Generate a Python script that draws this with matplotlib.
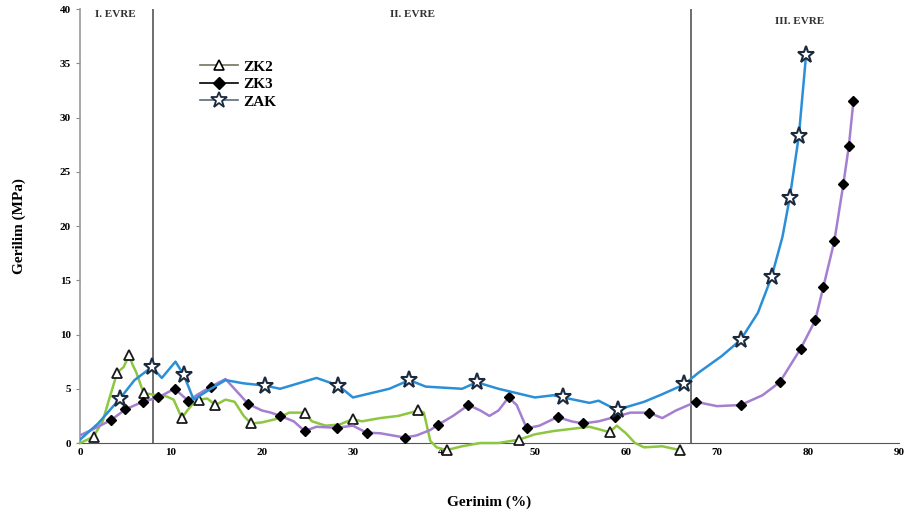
import numpy as np
import matplotlib.pyplot as plt
from matplotlib.lines import Line2D

# ZK2 (green, open triangles)
zk2_x = [0, 0.8, 1.5, 2.5, 3.2, 4.1, 4.8, 5.4, 5.8, 6.2, 7.0, 7.8, 8.5, 9.5, 10.3, 11.2, 11.8, 12.3,
         13.1, 14.0, 14.9, 16.0, 17.0, 18.0, 18.8, 20.0, 21.5, 23.0, 24.7, 25.5, 27.0, 28.5, 30.0,
         31.0, 33.0, 35.0, 37.2, 37.8, 38.5, 39.2, 40.3, 42.0, 44.0, 46.0, 48.2, 50.0, 52.0, 54.0,
         56.0, 58.2, 59.0, 60.0, 61.0, 62.0, 64.0, 65.9]
zk2_y = [0, 0.3, 0.6, 2.0, 4.0, 6.5, 7.0, 8.1, 7.2, 6.5, 4.6, 4.5, 4.4, 4.3, 4.0, 2.3, 3.0, 3.5,
         4.0, 4.1, 3.5, 4.0, 3.8, 2.5, 1.8, 1.9, 2.2, 2.8, 2.8, 2.0, 1.6, 1.7, 2.2,
         2.0, 2.3, 2.5, 3.0, 2.8, 0.2, -0.4, -0.65, -0.3, 0.0, 0.0, 0.3, 0.8, 1.1, 1.3,
         1.5, 1.0, 1.6, 0.9, 0.0, -0.4, -0.3, -0.65]
zk2_marks = [2, 5, 7, 10, 15, 18, 20, 24, 28, 32, 36, 40, 44, 49, 55]

# ZK3 (purple, black diamonds)
zk3_x = [0, 1.5, 3.4, 5.0, 6.9, 8.6, 10.4, 11.9, 13.0, 14.4, 16.0, 17.2, 18.5, 20.0, 21.0, 22.0,
         23.5, 24.7, 26.0, 28.2, 30.0, 31.5, 33.0, 35.7, 37.0, 38.5, 39.4, 41.0, 42.7, 44.0, 45.0,
         46.0, 47.1, 48.0, 49.1, 50.5, 52.5, 54.0, 55.3, 57.0, 58.8, 60.5, 62.5, 64.0, 65.5, 67.7,
         70.0, 72.6, 75.0, 76.9, 79.2, 80.8, 81.7, 82.9, 83.9, 84.5, 85.0]
zk3_y = [0.7, 1.3, 2.1, 3.1, 3.8, 4.2, 5.0, 3.9, 4.5, 5.2, 5.9, 4.8, 3.6, 3.0, 2.8, 2.5,
         2.0, 1.1, 1.5, 1.4, 1.6, 0.95, 0.9, 0.5, 0.7, 1.2, 1.7, 2.5, 3.5, 3.0, 2.5,
         3.0, 4.2, 3.5, 1.35, 1.6, 2.4, 2.0, 1.8, 2.0, 2.4, 2.8, 2.8, 2.3, 3.0, 3.8,
         3.4, 3.5, 4.4, 5.6, 8.7, 11.3, 14.4, 18.6, 23.9, 27.4, 31.5]
zk3_marks = [2, 3, 4, 5, 6, 7, 9, 12, 15, 17, 19, 21, 23, 26, 28, 32, 34, 36, 38, 40, 42, 45,
             47, 49, 50, 51, 52, 53, 54, 55, 56]

# ZAK (blue, open stars)
zak_x = [0, 2.0, 4.4, 6.0, 7.9, 9.0, 10.5, 11.4, 12.5, 14.0, 16.0, 18.0, 20.3, 22.0, 24.0, 26.0,
         28.4, 30.0, 32.0, 34.0, 36.2, 38.0, 40.0, 42.0, 43.6, 46.0, 48.0, 50.0, 52.0, 53.1, 56.0,
         57.0, 59.1, 60.0, 62.0, 64.0, 66.4, 68.0, 70.5, 72.6, 74.5, 76.0, 77.2, 78.0, 79.0, 79.8]
zak_y = [0.3, 1.8, 4.1, 5.8, 7.0, 6.0, 7.5, 6.3, 4.0, 4.8, 5.8, 5.5, 5.3, 5.0, 5.5, 6.0,
         5.3, 4.2, 4.6, 5.0, 5.8, 5.2, 5.1, 5.0, 5.6, 5.0, 4.6, 4.2, 4.4, 4.2, 3.7,
         3.9, 3.0, 3.3, 3.8, 4.5, 5.4, 6.5, 8.0, 9.5, 12.0, 15.3, 19.0, 22.6, 28.3, 35.8]
zak_marks = [2, 4, 7, 12, 16, 20, 24, 29, 32, 36, 39, 41, 43, 44, 45]

stage_lines = [8, 67.2]
stage_labels = ["I. EVRE", "II. EVRE", "III. EVRE"]
stage_pos = [(3.85, 39.5), (36.5, 39.5), (79.1, 38.9)]

plt.rcParams['font.family'] = ['Liberation Serif', 'DejaVu Serif']

fig = plt.figure(figsize=(9.08, 5.31), dpi=100)
ax = fig.add_axes([0.088, 0.1657, 0.902, 0.817])

ax.plot(zk2_x, zk2_y, color='#8dc63f', lw=1.8, marker='^', ms=7, mfc='white', mec='#1a1a1a',
        mew=1.3, markevery=zk2_marks, clip_on=False, zorder=3)
ax.plot(zk3_x, zk3_y, color='#a47fd0', lw=1.8, marker='D', ms=5.5, mfc='black', mec='black',
        markevery=zk3_marks, zorder=4)
ax.plot(zak_x, zak_y, color='#2b8fd8', lw=1.8, marker='*', ms=12.5, mfc='white', mec='#1b2a3d',
        mew=1.5, markevery=zak_marks, zorder=5)

for xv in stage_lines:
    ax.axvline(xv, color='#555555', lw=1.2, zorder=1)
for txt, (tx, ty) in zip(stage_labels, stage_pos):
    ax.text(tx, ty, txt, ha='center', va='center', fontsize=8, fontweight='bold', color='#333333')

ax.set_xlim(0, 90)
ax.set_ylim(0, 40)
ax.set_xticks(np.arange(0, 91, 10))
ax.set_yticks(np.arange(0, 41, 5))
for lab in ax.get_xticklabels() + ax.get_yticklabels():
    lab.set_fontweight('bold')
ax.tick_params(labelsize=8, length=3, color='#888888', width=0.8)
ax.tick_params(axis='x', length=0)
ax.spines['top'].set_visible(False)
ax.spines['right'].set_visible(False)
ax.spines['left'].set_color('#999999')
ax.spines['bottom'].set_color('#555555')
ax.spines['left'].set_linewidth(1.2)

ax.set_xlabel('Gerinim (%)', fontsize=11, fontweight='bold', labelpad=28)
ax.set_ylabel('Gerilim (MPa)', fontsize=11, fontweight='bold', labelpad=24)

handles = [
    Line2D([], [], color='#6e7560', lw=1.2, marker='^', ms=7, mfc='white', mec='black', mew=1.2),
    Line2D([], [], color='black', lw=1.2, marker='D', ms=6, mfc='black', mec='black'),
    Line2D([], [], color='#5a6c80', lw=1.2, marker='*', ms=12, mfc='white', mec='#1b2a3d', mew=1.3),
]
leg = ax.legend(handles, ['ZK2', 'ZK3', 'ZAK'], loc='upper left', bbox_to_anchor=(0.13, 0.915),
                frameon=False, handlelength=2.5, handletextpad=0.3, labelspacing=0.25,
                prop={'size': 11, 'weight': 'bold'})

fig.savefig('out.png', dpi=100)
